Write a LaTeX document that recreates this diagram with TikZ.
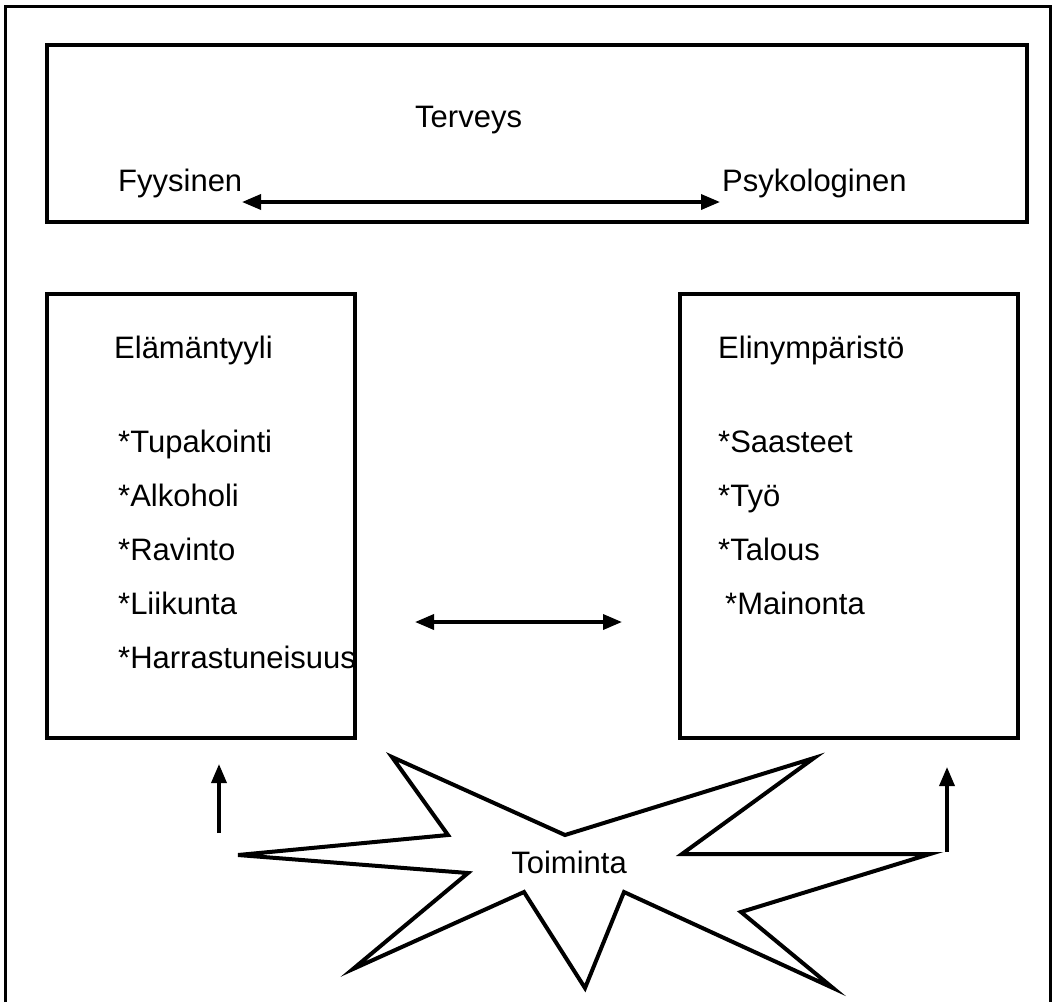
\documentclass[tikz,border=0pt]{standalone}
\usepackage{fontspec}
\setmainfont{Liberation Sans}
\usetikzlibrary{arrows.meta}
\begin{document}
\begin{tikzpicture}[x=1pt,y=-1pt,
  txt/.style={anchor=base west,inner sep=0pt,font=\fontsize{31}{36}\selectfont},
  box/.style={draw,line width=4.5pt},
  conn/.style={line width=3.5pt,-{Triangle[length=19pt,width=15pt]}},
  biconn/.style={line width=3.5pt,{Triangle[length=19pt,width=15pt]}-{Triangle[length=19pt,width=15pt]}},
  starline/.style={draw,line width=4pt,line join=miter,fill=white}]
\useasboundingbox (0,0) rectangle (1056,1002);
% outer frame (open at the bottom)
\draw[line width=3pt] (5,1002) -- (5,6) -- (1050,6) -- (1050,1002);
% top box
\draw[box] (47,45) rectangle (1027,222);
\node[txt] (terveys) at (415,127) {Terveys};
\node[txt] (fyys) at (118,191) {Fyysinen};
\node[txt] (psyk) at (722,191) {Psykologinen};
\coordinate (ta) at (242,202);
\coordinate (tb) at (720,202);
\draw[biconn] (ta) -- (tb);
% left box
\draw[box] (47,294) rectangle (355,738);
\node[txt] (elam) at (114,358) {Elämäntyyli};
\node[txt] (l1) at (118,452) {*Tupakointi};
\node[txt] (l2) at (118,506) {*Alkoholi};
\node[txt] (l3) at (118,560) {*Ravinto};
\node[txt] (l4) at (118,614) {*Liikunta};
\node[txt] (l5) at (118,668) {*Harrastuneisuus};
% right box
\draw[box] (680,294) rectangle (1018,738);
\node[txt] (elin) at (718,358) {Elinympäristö};
\node[txt] (r1) at (718,452) {*Saasteet};
\node[txt] (r2) at (718,506) {*Työ};
\node[txt] (r3) at (718,560) {*Talous};
\node[txt] (r4) at (725,614) {*Mainonta};
% middle arrow
\coordinate (ma) at (415,622);
\coordinate (mb) at (622,622);
\draw[biconn] (ma) -- (mb);
% star
\draw[starline] (392,757) -- (565,835) -- (814,758) -- (682,854) -- (930,854)
  -- (741,912) -- (833,988) -- (624,892) -- (585,988) -- (524,892)
  -- (353,969) -- (468,873) -- (238,855) -- (448,835) -- cycle;
\node[txt,anchor=center] (toim) at (569,862) {Toiminta};
% upward arrows
\coordinate (ua1) at (219,833);
\coordinate (ub1) at (219,764);
\coordinate (ua2) at (947,852);
\coordinate (ub2) at (947,767);
\draw[conn] (ua1) -- (ub1);
\draw[conn] (ua2) -- (ub2);
\end{tikzpicture}
\end{document}
